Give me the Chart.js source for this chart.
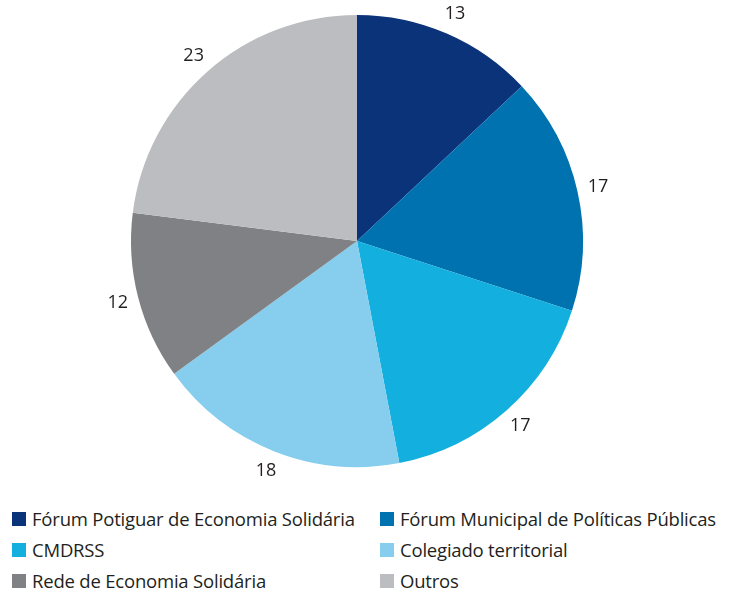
<!DOCTYPE html>
<html>
<head>
<meta charset="utf-8">
<script src="https://cdn.jsdelivr.net/npm/chart.js@4/dist/chart.umd.min.js"></script>
<style>
  html, body { margin:0; padding:0; background:#fff; }
  body { width:729px; height:592px; position:relative; overflow:hidden; font-family:"Open Sans", "Noto Sans", sans-serif; color:#231f20; }
  #wrap { position:absolute; left:0; top:0; width:729px; height:500px; }
  #legend { position:absolute; left:12px; top:507px; display:grid; grid-template-columns:368px 340px; row-gap:8px; }
  .item { display:flex; align-items:center; height:23px; font-size:18.5px; letter-spacing:-0.2px; white-space:nowrap; }
  .sw { width:14px; height:14px; margin-right:6px; flex:none; }
</style>
</head>
<body>
<div id="wrap"><canvas id="pie"></canvas></div>
<div id="legend"></div>
<script>
/* pie data */
const categories = ['Fórum Potiguar de Economia Solidária', 'Fórum Municipal de Políticas Públicas', 'CMDRSS', 'Colegiado territorial', 'Rede de Economia Solidária', 'Outros'];
const values     = [13, 17, 17, 18, 12, 23];
const colors     = ['#0a337a', '#0072b0', '#13b0df', '#86cdee', '#808184', '#bcbdc0'];

/* ── value labels outside each slice ── */
const outsideLabels = {
    id: 'outsideLabels',
    afterDatasetsDraw(chart) {
        const ctx = chart.ctx;
        const meta = chart.getDatasetMeta(0);
        ctx.save();
        ctx.font = '18px "Open Sans", "Noto Sans", sans-serif';
        ctx.fillStyle = '#231f20';
        ctx.textAlign = 'center';
        ctx.textBaseline = 'middle';
        meta.data.forEach((arc, i) => {
            const mid = (arc.startAngle + arc.endAngle) / 2;
            const r   = arc.outerRadius + 21;
            ctx.fillText(String(values[i]), arc.x + Math.cos(mid) * r, arc.y + Math.sin(mid) * r);
        });
        ctx.restore();
    }
};

new Chart(document.getElementById('pie').getContext('2d'), {
    type: 'pie',
    data: {
        labels: categories,
        datasets: [{ data: values, backgroundColor: colors, borderWidth: 0 }]
    },
    options: {
        responsive: true,
        maintainAspectRatio: false,
        animation: false,
        layout: { padding: { top:15, bottom:33, left:0, right:15 } },
        plugins: { legend: { display:false }, tooltip: { enabled:false } }
    },
    plugins: [outsideLabels]
});

/* ── legend (two columns) ── */
const legendEl = document.getElementById('legend');
categories.forEach((c, i) => {
    const d = document.createElement('div');
    d.className = 'item';
    d.innerHTML = `<span class="sw" style="background:${colors[i]}"></span><span>${c}</span>`;
    legendEl.appendChild(d);
});
</script>
</body>
</html>
